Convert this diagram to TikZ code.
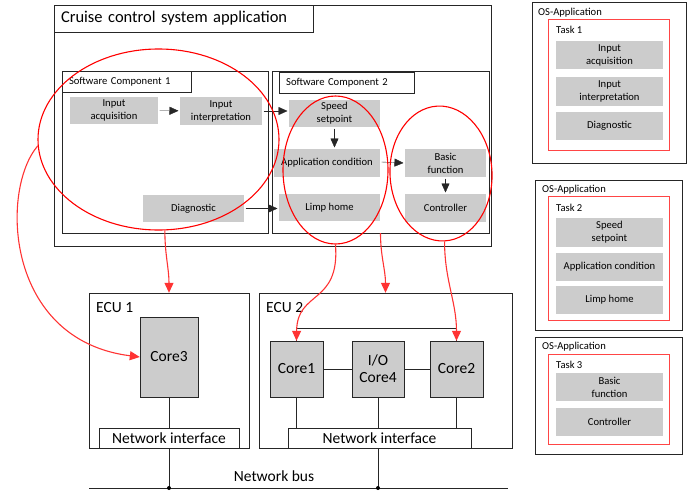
\documentclass[tikz,border=0pt]{standalone}
\usepackage{fontspec}
\setmainfont{Carlito}
\usetikzlibrary{shapes.geometric,arrows.meta}

\definecolor{mapred}{HTML}{FF3333}
\definecolor{taskred}{HTML}{FF4545}

\tikzset{
  small/.style={font=\fontsize{10.6}{13}\selectfont},
  large/.style={font=\fontsize{15.5}{17}\selectfont},
  fn/.style={small,fill=gray!40,align=center,inner sep=0pt,outer sep=1.5pt},
  box/.style={draw=black!85,inner sep=0pt},
  core/.style={large,draw=black!85,fill=gray!40,align=center,inner sep=0pt},
  lbl/.style={anchor=west,inner sep=0pt},
  flow/.style={-{Triangle[length=9pt,width=8pt]},black!85},
  map/.style={-{Triangle[length=10pt,width=9pt]},mapred,line width=1.1pt},
  cluster/.style={ellipse,draw=red,line width=1.1pt,inner sep=0pt},
}

\begin{document}
\begin{tikzpicture}[x=1pt,y=1pt]
  \useasboundingbox (0,0) rectangle (699,-493);

  % application
  \node[box,minimum width=437,minimum height=241] (cruise) at (272.5,-125.5) {};
  \node[box,anchor=north west,minimum height=27,text width=245,inner xsep=7pt,
        align=left,font=\fontsize{16.5}{18}\selectfont] (cruisetitle) at (cruise.north west) {Cruise control system application};

  \node[box,minimum width=206,minimum height=162] (swc1) at (165,-152) {};
  \node[box,small,anchor=north west,minimum height=21,text width=115,inner xsep=7pt,
        align=left] (swc1title) at (swc1.north west) {Software Component 1};
  \node[box,minimum width=217,minimum height=162] (swc2) at (380.5,-152) {};
  \node[box,small,anchor=north west,minimum height=21,text width=121,inner xsep=7pt,
        align=left] (swc2title) at (279,-72) {Software Component 2};

  \node[fn,minimum width=88,minimum height=27] (acq) at (114,-110.5) {Input\\acquisition};
  \node[fn,minimum width=82,minimum height=28] (interp) at (221,-111) {Input\\interpretation};
  \node[fn,minimum width=101,minimum height=27] (diag) at (193.5,-208.5) {Diagnostic};
  \node[fn,minimum width=91,minimum height=27] (speed) at (334.5,-113.5) {Speed\\setpoint};
  \node[fn,minimum width=106,minimum height=28] (appcond) at (327,-163) {Application condition};
  \node[fn,minimum width=101,minimum height=27] (limp) at (329.5,-207.5) {Limp home};
  \node[fn,minimum width=81,minimum height=28] (basic) at (445.5,-163) {Basic\\function};
  \node[fn,minimum width=81,minimum height=28] (ctrl) at (445.5,-208) {Controller};

  \draw[flow] (acq) -- (interp);
  \draw[flow] (interp) -- (interp -| speed.west);
  \draw[flow] (speed) -- (speed |- appcond.north);
  \draw[flow] (appcond.east) ++(0,1) -- (basic.west);
  \draw[flow] (basic) -- (ctrl);
  \draw[flow] (diag) -- (diag -| limp.west);

  % task groups
  \node[cluster,minimum width=241,minimum height=181] (grp1) at (158.5,-139.5) {};
  \node[cluster,minimum width=105,minimum height=148] (grp2) at (335.5,-170) {};
  \node[cluster,minimum width=102,minimum height=135,rotate=3] (grp3) at (441,-173.5) {};

  % hardware
  \node[box,minimum width=160,minimum height=155] (ecu1) at (169,-370.5) {};
  \node[lbl,large] (ecu1lbl) at (96,-308) {ECU 1};
  \node[box,minimum width=253,minimum height=155] (ecu2) at (385.5,-370.5) {};
  \node[lbl,large] (ecu2lbl) at (266,-308) {ECU 2};

  \node[core,minimum width=58,minimum height=80] (core3) at (169,-357) {Core3};
  \node[core,minimum width=53,minimum height=56] (core1) at (296.5,-369) {Core1};
  \node[core,minimum width=52,minimum height=56] (core4) at (378,-369) {I/O\\Core4};
  \node[core,minimum width=53,minimum height=56] (core2) at (456.5,-369) {Core2};

  \node[box,large,fill=white,minimum width=140,minimum height=20] (ni1) at (169,-438) {Network interface};
  \node[box,large,fill=white,minimum width=183,minimum height=20] (ni2) at (379.5,-438) {Network interface};

  \draw[black!85] (core1.north) -- ++(0,13) -| (core2.north);
  \draw[black!85] (core1) -- (core4);
  \draw[black!85] (core4) -- (core2);
  \draw[black!85] (core3) -- (ni1);
  \draw[black!85] (core1) -- (core1 |- ni2.north);
  \draw[black!85] (core4) -- (core4 |- ni2.north);
  \draw[black!85] (core2) -- (core2 |- ni2.north);

  % bus
  \coordinate (busL) at (89,-488);
  \coordinate (busR) at (508,-488);
  \draw[black!85] (busL) -- (busR);
  \draw[black!85] (ni1.south) -- (ni1.south |- busL) coordinate (tap1);
  \draw[black!85] (ni2.south -| core4) -- (core4 |- busL) coordinate (tap2);
  \fill (tap1) circle (2);
  \fill (tap2) circle (2);
  \node[large] (buslbl) at (274,-476) {Network bus};

  % mapping
  \draw[map] (grp1.-86) to[out=-90,in=90] (ecu1.north);
  \draw[map] (grp1.183) .. controls (0,-190) and (5,-340) .. (core3.west);
  \draw[map] (grp2.south) .. controls (340,-305) and (297,-290) .. (core1.north);
  \draw[map] (swc2.south) to[out=-90,in=90] (ecu2.north);
  \draw[map] (grp3.south) to[out=-90,in=90] (core2.north);

  % OS-applications
  \node[box,minimum width=154,minimum height=161] (os1) at (609,-82.5) {};
  \node[lbl,small] (os1lbl) at (538,-13) {OS-Application};
  \node[draw=taskred,line width=0.8pt,minimum width=121,minimum height=131] (task1) at (608.5,-84.5) {};
  \node[lbl,small] (task1lbl) at (556,-30) {Task 1};
  \node[fn,minimum width=107,minimum height=28] (t1acq) at (609.5,-55) {Input\\acquisition};
  \node[fn,minimum width=107,minimum height=29] (t1interp) at (609.5,-91.5) {Input\\interpretation};
  \node[fn,minimum width=107,minimum height=28] (t1diag) at (609.5,-126) {Diagnostic};

  \node[box,minimum width=147,minimum height=150] (os2) at (608.5,-255) {};
  \node[lbl,small] (os2lbl) at (542,-190) {OS-Application};
  \node[draw=taskred,line width=0.8pt,minimum width=121,minimum height=124] (task2) at (608.5,-258) {};
  \node[lbl,small] (task2lbl) at (556,-208) {Task 2};
  \node[fn,minimum width=107,minimum height=29] (t2speed) at (609.5,-232.5) {Speed\\setpoint};
  \node[fn,minimum width=107,minimum height=28] (t2app) at (609.5,-267) {Application condition};
  \node[fn,minimum width=107,minimum height=28] (t2limp) at (609.5,-300) {Limp home};

  \node[box,minimum width=147,minimum height=117] (os3) at (608.5,-395.5) {};
  \node[lbl,small] (os3lbl) at (542,-347) {OS-Application};
  \node[draw=taskred,line width=0.8pt,minimum width=121,minimum height=90] (task3) at (608.5,-399) {};
  \node[lbl,small] (task3lbl) at (556,-365) {Task 3};
  \node[fn,minimum width=107,minimum height=28] (t3basic) at (609.5,-387) {Basic\\function};
  \node[fn,minimum width=107,minimum height=28] (t3ctrl) at (609.5,-422) {Controller};
\end{tikzpicture}
\end{document}
